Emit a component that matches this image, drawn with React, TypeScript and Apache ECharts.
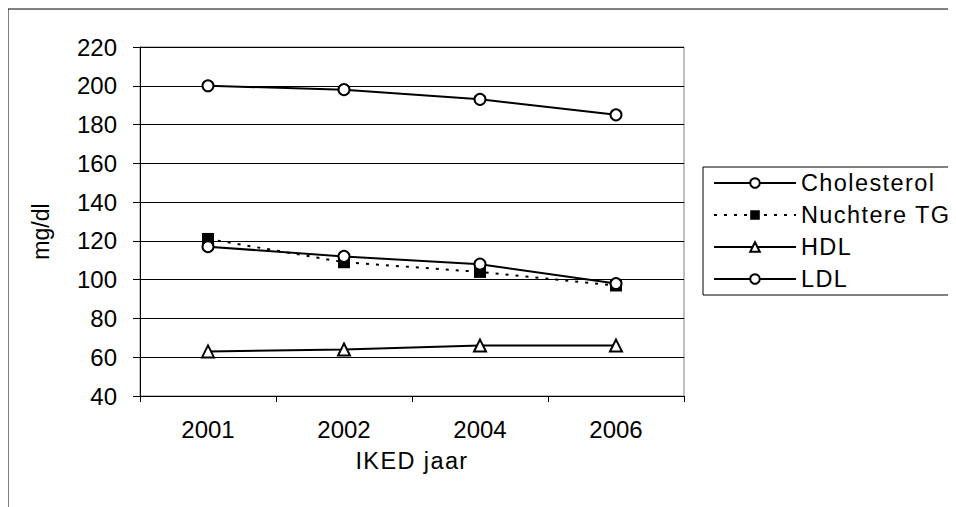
import React, { useEffect, useRef } from "react";
import * as echarts from "echarts";

const years = ["2001", "2002", "2004", "2006"];
const cholesterol = [200, 198, 193, 185];
const nuchtereTG = [121, 109, 104, 97];
const hdl = [63, 64, 66, 66];
const ldl = [117, 112, 108, 98];

const FONT = "Liberation Sans";

export default function App() {
  const ref = useRef<HTMLDivElement>(null);
  useEffect(() => {
    if (!ref.current) return;
    const chart = echarts.init(ref.current, undefined, { renderer: "svg" });
    const lineBase = { color: "#000", width: 2 };
    chart.setOption({
      animation: false,
      backgroundColor: "#fff",
      graphic: [
        {
          type: "rect",
          shape: { x: 0, y: 1, width: 1000, height: 700 },
          style: { fill: "none", stroke: "#000", lineWidth: 1 },
          silent: true,
        },
      ],
      grid: {
        left: 132,
        top: 39,
        width: 544,
        height: 349,
        show: true,
        borderColor: "#808080",
        borderWidth: 1,
      },
      legend: {
        orient: "vertical",
        left: 695,
        top: 159,
        itemWidth: 82,
        itemHeight: 12,
        itemGap: 8,
        padding: [4, 30, 4, 10],
        borderColor: "#000",
        borderWidth: 1,
        borderRadius: 0,
        backgroundColor: "#fff",
        textStyle: { fontFamily: FONT, fontSize: 23.5, color: "#000" },
        data: ["Cholesterol", "Nuchtere TG", "HDL", "LDL"],
      },
      xAxis: {
        type: "category",
        data: years,
        boundaryGap: true,
        axisLine: { lineStyle: { color: "#000", width: 1 } },
        axisTick: { show: true, length: 6, lineStyle: { color: "#000" } },
        axisLabel: { fontFamily: FONT, fontSize: 24, color: "#000", margin: 21 },
        name: "IKED jaar",
        nameLocation: "middle",
        nameGap: 53,
        nameTextStyle: { fontFamily: FONT, fontSize: 23.5, color: "#000" },
      },
      yAxis: {
        type: "value",
        min: 40,
        max: 220,
        interval: 20,
        axisLine: { show: true, lineStyle: { color: "#000", width: 1 } },
        axisTick: { show: true, length: 7, lineStyle: { color: "#000" } },
        axisLabel: { fontFamily: FONT, fontSize: 24, color: "#000", margin: 23 },
        splitLine: { show: true, lineStyle: { color: "#000", width: 1 } },
        name: "mg/dl",
        nameLocation: "middle",
        nameGap: 88,
        nameTextStyle: { fontFamily: FONT, fontSize: 23, color: "#000", padding: [0, 20, 0, 0] },
      },
      series: [
        {
          name: "Cholesterol",
          type: "line",
          data: cholesterol,
          symbol: "circle",
          symbolSize: 11,
          lineStyle: lineBase,
          itemStyle: { color: "#fff", borderColor: "#000", borderWidth: 2 },
        },
        {
          name: "Nuchtere TG",
          type: "line",
          data: nuchtereTG,
          symbol: "rect",
          symbolSize: 12,
          lineStyle: { color: "#000", width: 2, type: [3, 7] },
          itemStyle: { color: "#000", borderColor: "#000", borderWidth: 0 },
        },
        {
          name: "HDL",
          type: "line",
          data: hdl,
          symbol: "triangle",
          symbolSize: 12,
          lineStyle: lineBase,
          itemStyle: { color: "#fff", borderColor: "#000", borderWidth: 2 },
        },
        {
          name: "LDL",
          type: "line",
          data: ldl,
          symbol: "circle",
          symbolSize: 11,
          lineStyle: lineBase,
          itemStyle: { color: "#fff", borderColor: "#000", borderWidth: 2 },
        },
      ],
    });
    return () => chart.dispose();
  }, []);
  return (
    <>
      <style>{`.chartbox text[style*="23.5px"], .chartbox text[font-size="23.5"], .chartbox text[font-size="23.5px"] { letter-spacing: 1.4px; }`}</style>
      <div className="chartbox" ref={ref} style={{ width: 948, height: 499 }} />
    </>
  );
}
